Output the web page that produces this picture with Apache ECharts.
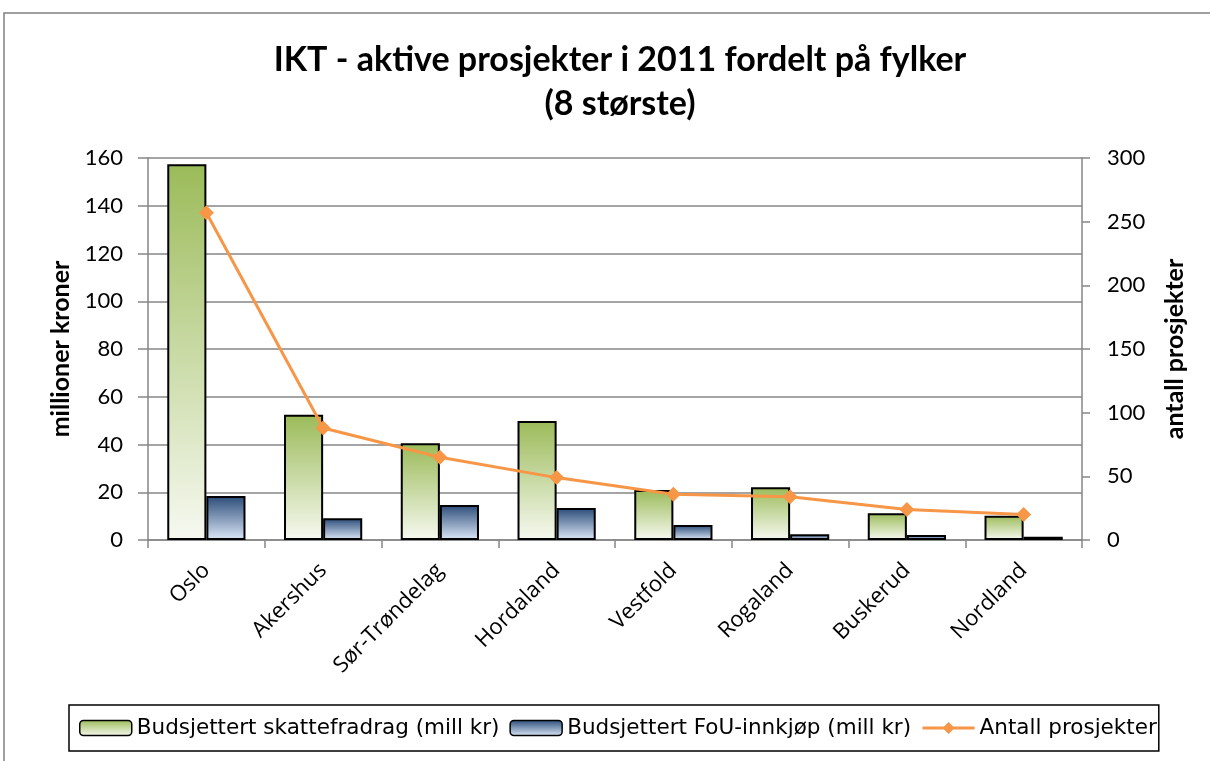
<!DOCTYPE html>
<html>
<head>
<meta charset="utf-8">
<script src="https://cdn.jsdelivr.net/npm/echarts@6/dist/echarts.min.js"></script>
<style>
  html, body { margin: 0; padding: 0; background: #fff; }
  #chart { width: 1210px; height: 761px; }
</style>
</head>
<body>
<div id="chart"></div>
<script>
var fylker = ['Oslo', 'Akershus', 'Sør-Trøndelag', 'Hordaland', 'Vestfold', 'Rogaland', 'Buskerud', 'Nordland'];
var skattefradrag = [157.4, 52.5, 40.5, 49.8, 20.9, 22.1, 11.2, 10.2];
var fouInnkjop = [18.4, 9.1, 14.7, 13.4, 6.3, 2.4, 2.1, 1.4];
var antallProsjekter = [257, 88, 65, 49, 36, 34, 24, 20];

var font = 'Lato, "Open Sans", sans-serif';
var font2 = '"Open Sans", Lato, sans-serif';
var font3 = '"DejaVu Sans", "Open Sans", sans-serif';

var chart = echarts.init(document.getElementById('chart'));

var greenFill = new echarts.graphic.LinearGradient(0, 0, 0, 1, [
    { offset: 0, color: '#9bbb59' },
    { offset: 1, color: '#f7f9f1' }
]);
var blueFill = new echarts.graphic.LinearGradient(0, 0, 0, 1, [
    { offset: 0, color: '#2a4b78' },
    { offset: 1, color: '#dde8f8' }
]);

var axisGrey = '#868686';

chart.setOption({
    animation: false,
    textStyle: { fontFamily: font },
    graphic: [{
        type: 'rect',
        shape: { x: 4, y: 13, width: 1230, height: 780 },
        style: { fill: 'none', stroke: '#808080', lineWidth: 1.5 },
        silent: true
    }],
    title: {
        text: 'IKT - aktive prosjekter i 2011 fordelt på fylker\n(8 største)',
        left: 615,
        top: 33,
        textAlign: 'center',
        textStyle: { fontSize: 34, fontWeight: 'bold', color: '#000', lineHeight: 44, fontFamily: font }
    },
    legend: {
        left: 69,
        top: 705,
        padding: [12, 2, 12, 10],
        borderColor: '#000',
        borderWidth: 1.5,
        itemGap: 10,
        itemWidth: 52,
        itemHeight: 15,
        textStyle: { fontSize: 21.5, color: '#000', fontFamily: font3 },
        data: [
            { name: 'Budsjettert skattefradrag (mill kr)', itemStyle: { borderColor: '#000', borderWidth: 1.5 } },
            { name: 'Budsjettert FoU-innkjøp (mill kr)', itemStyle: { borderColor: '#000', borderWidth: 1.5 } },
            { name: 'Antall prosjekter', lineStyle: { width: 3 } }
        ]
    },
    grid: { left: 148, right: 128, top: 158, bottom: 221 },
    xAxis: {
        type: 'category',
        data: fylker,
        axisLine: { lineStyle: { color: axisGrey, width: 1.5 } },
        axisTick: { show: true, length: 8, lineStyle: { color: axisGrey, width: 1.5 } },
        axisLabel: { rotate: 45, fontSize: 22, color: '#000', margin: 27, fontFamily: font2 }
    },
    yAxis: [{
        type: 'value',
        min: 0,
        max: 160,
        interval: 20,
        name: 'millioner kroner',
        nameLocation: 'middle',
        nameGap: 74,
        nameTextStyle: { fontSize: 25, fontWeight: 'bold', color: '#000' },
        axisLine: { show: true, lineStyle: { color: axisGrey, width: 1.5 } },
        axisTick: { show: true, length: 10, lineStyle: { color: axisGrey, width: 1.5 } },
        axisLabel: { fontSize: 22, color: '#000', margin: 25 },
        splitLine: { lineStyle: { color: axisGrey, width: 1.5 } }
    }, {
        type: 'value',
        min: 0,
        max: 300,
        interval: 50,
        name: 'antall prosjekter',
        nameLocation: 'middle',
        nameGap: 80,
        nameTextStyle: { fontSize: 25, fontWeight: 'bold', color: '#000' },
        axisLine: { show: true, lineStyle: { color: axisGrey, width: 1.5 } },
        axisTick: { show: true, length: 8, lineStyle: { color: axisGrey, width: 1.5 } },
        axisLabel: { fontSize: 22, color: '#000', margin: 25 },
        splitLine: { show: false }
    }],
    series: [{
        name: 'Budsjettert skattefradrag (mill kr)',
        type: 'bar',
        data: skattefradrag,
        barGap: '0%',
        barCategoryGap: '33%',
        itemStyle: { color: greenFill, borderColor: '#000', borderWidth: 2 }
    }, {
        name: 'Budsjettert FoU-innkjøp (mill kr)',
        type: 'bar',
        data: fouInnkjop,
        itemStyle: { color: blueFill, borderColor: '#000', borderWidth: 2 }
    }, {
        name: 'Antall prosjekter',
        type: 'line',
        yAxisIndex: 1,
        data: antallProsjekter,
        symbol: 'diamond',
        symbolSize: 15,
        lineStyle: { color: '#f79646', width: 3 },
        itemStyle: { color: '#f79646' }
    }]
});
</script>
</body>
</html>
